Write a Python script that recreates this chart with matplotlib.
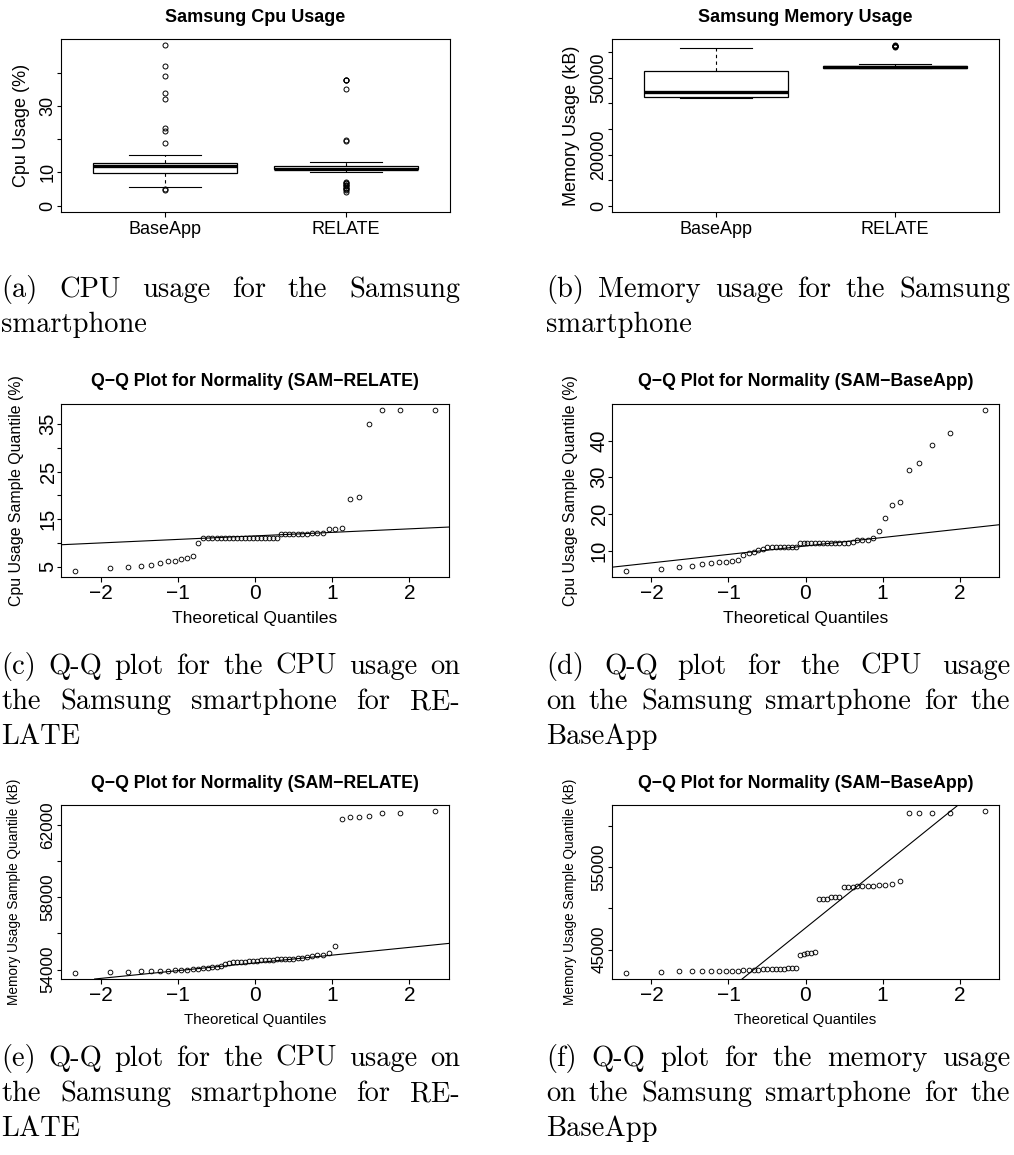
import matplotlib
matplotlib.use("Agg")
import matplotlib.pyplot as plt
import numpy as np
from statistics import NormalDist
from matplotlib.ticker import FixedLocator, FixedFormatter

# ---------------- data (sorted samples, n = 50 each) ----------------
groups = ["BaseApp", "RELATE"]

cpu_base = [4.6, 4.9, 5.5, 5.9, 6.5, 6.7, 6.9, 7.0, 7.2, 7.5,
            8.9, 9.5, 9.6, 10.2, 10.6, 11.0, 11.0, 11.0, 11.0, 11.0,
            11.0, 11.0, 11.0, 12.0, 12.0, 12.0, 12.0, 12.0, 12.0, 12.0,
            12.0, 12.0, 12.0, 12.0, 12.0, 12.1, 12.4, 13.0, 13.0, 13.0,
            13.4, 15.3, 18.8, 22.5, 23.2, 32.0, 33.8, 38.9, 42.0, 48.2]

cpu_relate = [4.2, 4.7, 4.9, 5.2, 5.4, 5.8, 6.3, 6.3, 6.7, 6.9,
              7.2, 10.0, 11.0, 11.0, 11.0, 11.0, 11.0, 11.0, 11.0, 11.0,
              11.0, 11.0, 11.0, 11.0, 11.0, 11.0, 11.0, 11.0, 11.0, 11.0,
              11.0, 12.0, 12.0, 12.0, 12.0, 12.0, 12.0, 12.0, 12.1, 12.1,
              12.2, 13.0, 13.0, 13.1, 19.3, 19.6, 35.0, 37.9, 37.9, 37.9]

mem_base = [42236, 42358, 42398, 42439, 42439, 42439, 42439, 42439, 42439, 42480,
            42520, 42560, 42560, 42602, 42620, 42640, 42660, 42680, 42700, 42720,
            42740, 42770, 42800, 44390, 44512, 44550, 44593, 44675, 51138, 51138,
            51179, 51382, 51423, 51423, 52561, 52561, 52642, 52723, 52764, 52764,
            52764, 52805, 52805, 52927, 53293, 61545, 61545, 61585, 61585, 61748]

mem_relate = [53833, 53889, 53889, 53907, 53926, 53926, 53944, 53963, 53981, 54000,
              54037, 54056, 54074, 54093, 54130, 54167, 54186, 54297, 54371, 54408,
              54408, 54427, 54445, 54464, 54483, 54483, 54501, 54501, 54520, 54538,
              54557, 54557, 54575, 54575, 54594, 54612, 54631, 54668, 54761, 54798,
              54817, 54891, 55281, 62315, 62445, 62463, 62519, 62649, 62668, 62760]

cpu_ticks = [0, 10, 20, 30, 40]
cpu_tick_labels = ["0", "10", "", "30", ""]
mem_ticks = [0, 10000, 20000, 30000, 40000, 50000, 60000]
mem_tick_labels = ["0", "", "20000", "", "", "50000", ""]
qq_x_ticks = [-2, -1, 0, 1, 2]
qq_x_labels = ["\u22122", "\u22121", "0", "1", "2"]
qq_c_ticks = [5, 10, 15, 20, 25, 30, 35]
qq_c_labels = ["5", "", "15", "", "25", "", "35"]
qq_d_ticks = [10, 20, 30, 40]
qq_d_labels = ["10", "20", "30", "40"]
qq_e_ticks = [54000, 56000, 58000, 60000, 62000]
qq_e_labels = ["54000", "", "58000", "", "62000"]
qq_f_ticks = [45000, 50000, 55000, 60000]
qq_f_labels = ["45000", "", "55000", ""]

captions = {
    "a": ["(a) CPU usage for the Samsung", "smartphone"],
    "b": ["(b) Memory usage for the Samsung", "smartphone"],
    "c": ["(c) Q-Q plot for the CPU usage on", "the Samsung smartphone for RE-", "LATE"],
    "d": ["(d) Q-Q plot for the CPU usage", "on the Samsung smartphone for the", "BaseApp"],
    "e": ["(e) Q-Q plot for the CPU usage on", "the Samsung smartphone for RE-", "LATE"],
    "f": ["(f) Q-Q plot for the memory usage", "on the Samsung smartphone for the", "BaseApp"],
}

# ---------------- figure setup ----------------
W, H, DPI = 1014, 1155, 100
plt.rcParams["font.family"] = ["Liberation Sans", "DejaVu Sans"]
fig = plt.figure(figsize=(W / DPI, H / DPI), dpi=DPI)
fig.patch.set_facecolor("white")
PX = 72.0 / DPI   # points per pixel
TICK_PX = 4.5


def add_ax(rect):
    x0, y0, x1, y1 = rect
    return fig.add_axes([x0 / W, 1 - y1 / H, (x1 - x0) / W, (y1 - y0) / H])


def pad_range(v, lo=None, hi=None):
    v = np.asarray(v, float)
    a = v.min() if lo is None else lo
    b = v.max() if hi is None else hi
    d = 0.04 * (b - a)
    return a - d, b + d


def finish(ax, rect, title, tsize, title_yc, ylabel, ylsize, ylabel_xc,
           yticks, ylabels, ytsize, xtsize, xlabel=None, xlsize=None, xlabel_yc=None,
           ytick_d=15, xtick_d=16):
    x0, y0, x1, y1 = rect
    w, h = x1 - x0, y1 - y0
    ax.set_title(title, fontsize=tsize, fontweight="bold", pad=0,
                 y=1 + (y0 - title_yc) / h, va="center")
    ax.set_ylabel(ylabel, fontsize=ylsize, va="center")
    ax.yaxis.set_label_coords((ylabel_xc - x0) / w, 0.5)
    if xlabel:
        ax.set_xlabel(xlabel, fontsize=xlsize, va="center")
        ax.xaxis.set_label_coords(0.5, -(xlabel_yc - y1) / h)
    for s in ax.spines.values():
        s.set_linewidth(0.8)
        s.set_color("black")
    ax.yaxis.set_major_locator(FixedLocator(yticks))
    ax.yaxis.set_major_formatter(FixedFormatter(ylabels))
    s_y = ytsize / PX
    s_x = xtsize / PX
    ax.tick_params(direction="out", length=TICK_PX * PX, width=0.8, colors="black")
    ax.tick_params(axis="y", labelsize=ytsize, labelrotation=90,
                   pad=(ytick_d - 0.105 * s_y - TICK_PX) * PX)
    ax.tick_params(axis="x", labelsize=xtsize,
                   pad=(xtick_d - 0.37 * s_x - TICK_PX) * PX)
    plt.setp(ax.get_yticklabels(), ha="center", va="center")


def boxpanel(rect, data, title, ylabel, yticks, ylabels, ylabel_xc):
    ax = add_ax(rect)
    ax.boxplot(data, positions=[1, 2], widths=0.8, capwidths=0.4,
               patch_artist=True,
               boxprops=dict(facecolor="white", edgecolor="black", linewidth=0.9),
               medianprops=dict(color="black", linewidth=2.4),
               whiskerprops=dict(color="black", linewidth=0.8, linestyle=(0, (3, 3))),
               capprops=dict(color="black", linewidth=0.8),
               flierprops=dict(marker="o", markerfacecolor="none", markeredgecolor="black",
                               markersize=3.6, markeredgewidth=0.7))
    ax.set_xlim(*pad_range([1, 2], 0.5, 2.5))
    allv = np.concatenate([np.asarray(d, float) for d in data])
    ax.set_ylim(*pad_range(allv, 0, allv.max()))
    ax.set_xticks([1, 2], groups)
    finish(ax, rect, title, 13, 17, ylabel, 13, ylabel_xc, yticks, ylabels, 13, 13,
           ytick_d=15, xtick_d=16)
    return ax


nd = NormalDist()


def qqpanel(rect, data, title, ylabel, ylsize, ylabel_xc, yticks, ylabels, ytsize,
            xlsize, xlabel_yc):
    ax = add_ax(rect)
    y = np.sort(np.asarray(data, float))
    n = len(y)
    a = 0.375 if n <= 10 else 0.5
    p = (np.arange(1, n + 1) - a) / (n + 1 - 2 * a)
    x = np.array([nd.inv_cdf(pi) for pi in p])
    ax.plot(x, y, "o", markerfacecolor="none", markeredgecolor="black",
            markersize=3.4, markeredgewidth=0.65, linestyle="none")
    q1, q3 = np.quantile(y, [0.25, 0.75])
    z1, z3 = nd.inv_cdf(0.25), nd.inv_cdf(0.75)
    slope = (q3 - q1) / (z3 - z1)
    icpt = q1 - slope * z1
    ax.axline((0, icpt), slope=slope, color="black", linewidth=0.8)
    ax.set_xlim(*pad_range(x))
    ax.set_ylim(*pad_range(y))
    ax.set_xticks(qq_x_ticks, qq_x_labels)
    finish(ax, rect, title, 12.8, rect[1] - 22, ylabel, ylsize, ylabel_xc,
           yticks, ylabels, ytsize, 15, xlabel="Theoretical Quantiles", xlsize=xlsize,
           xlabel_yc=xlabel_yc, ytick_d=15, xtick_d=15)
    return ax


# ---------------- panels ----------------
rect_a = (61, 39, 450, 212)
rect_b = (612, 39, 999, 212)
rect_c = (61, 404, 449, 577)
rect_d = (612, 404, 999, 577)
rect_e = (61, 805, 449, 979)
rect_f = (612, 805, 999, 979)

boxpanel(rect_a, [cpu_base, cpu_relate], "Samsung Cpu Usage", "Cpu Usage (%)",
         cpu_ticks, cpu_tick_labels, 22)
boxpanel(rect_b, [mem_base, mem_relate], "Samsung Memory Usage", "Memory Usage (kB)",
         mem_ticks, mem_tick_labels, 572)

qqpanel(rect_c, cpu_relate, "Q\u2212Q Plot for Normality (SAM\u2212RELATE)",
        "Cpu Usage Sample Quantile (%)", 11.4, 17, qq_c_ticks, qq_c_labels, 14.5,
        12.6, 618)
qqpanel(rect_d, cpu_base, "Q\u2212Q Plot for Normality (SAM\u2212BaseApp)",
        "Cpu Usage Sample Quantile (%)", 11.4, 571, qq_d_ticks, qq_d_labels, 14.5,
        12.6, 618)
qqpanel(rect_e, mem_relate, "Q\u2212Q Plot for Normality (SAM\u2212RELATE)",
        "Memory Usage Sample Quantile (kB)", 9.8, 14, qq_e_ticks, qq_e_labels, 12.3,
        10.8, 1020)
qqpanel(rect_f, mem_base, "Q\u2212Q Plot for Normality (SAM\u2212BaseApp)",
        "Memory Usage Sample Quantile (kB)", 9.8, 570, qq_f_ticks, qq_f_labels, 12.3,
        10.8, 1020)

# ---------------- justified sub-captions ----------------
CAP_SIZE = 20.5
renderer = fig.canvas.get_renderer()


def caption(lines, xl, xr, baselines):
    for k, (line, yb) in enumerate(zip(lines, baselines)):
        words = line.split()
        texts = [fig.text(0, 1 - yb / H, wd, fontsize=CAP_SIZE, family="cmr10",
                          ha="left", va="baseline", color="black") for wd in words]
        widths = [t.get_window_extent(renderer).width for t in texts]
        last = (k == len(lines) - 1)
        if len(words) > 1 and not last:
            gap = (xr - xl - sum(widths)) / (len(words) - 1)
        else:
            gap = 0.333 * CAP_SIZE / PX
        x = xl
        for t, wd in zip(texts, widths):
            t.set_x(x / W)
            x += wd + gap


LX0, LX1 = 1, 460
RX0, RX1 = 546, 1010
caption(captions["a"], LX0, LX1, [297, 332])
caption(captions["b"], RX0, RX1, [297, 332])
caption(captions["c"], LX0, LX1, [674, 709, 744])
caption(captions["d"], RX0, RX1, [674, 709, 744])
caption(captions["e"], LX0, LX1, [1066, 1101, 1136])
caption(captions["f"], RX0, RX1, [1066, 1101, 1136])

fig.savefig("out.png", dpi=DPI, facecolor="white")
